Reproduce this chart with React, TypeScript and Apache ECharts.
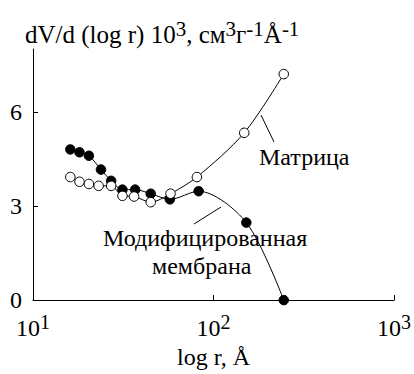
import { useEffect, useRef } from "react";
import * as echarts from "echarts";

const matrixR = [16.1, 18.1, 20.4, 23.1, 27.1, 31.3, 36.3, 44.9, 57.8, 80.9, 148, 245];
const matrixV = [3.92, 3.77, 3.7, 3.64, 3.64, 3.32, 3.3, 3.12, 3.39, 3.92, 5.33, 7.2];
const membraneR = [16.1, 18.1, 20.4, 23.8, 27.1, 31.3, 36.8, 44.9, 57.3, 82.7, 152, 245];
const membraneV = [4.8, 4.71, 4.6, 4.16, 3.8, 3.52, 3.52, 3.39, 3.21, 3.47, 2.47, 0];
const yTicks = [0, 3, 6];
const xTickValues = [10, 100, 1000];

const FONT = "'Liberation Serif', 'Times New Roman', 'DejaVu Serif', serif";
const BASE = 24;
const SUP = 20;

export default function App() {
  const ref = useRef<HTMLDivElement>(null);
  useEffect(() => {
    document.body.style.margin = "0";
    const chart = echarts.init(ref.current!, null, { renderer: "svg" });
    const rich = {
      a: { fontFamily: FONT, fontSize: BASE, fontWeight: "normal" as const, color: "#000", verticalAlign: "bottom" as const },
      s: { fontFamily: FONT, fontSize: SUP, fontWeight: "normal" as const, color: "#000", verticalAlign: "bottom" as const, padding: [0, 0, 8, 0] },
    };
    const titleRich = {
      a: { fontFamily: FONT, fontSize: 25, fontWeight: "normal" as const, color: "#000", verticalAlign: "bottom" as const },
      s: { fontFamily: FONT, fontSize: 21, fontWeight: "normal" as const, color: "#000", verticalAlign: "bottom" as const, padding: [0, 0, 8, 0] },
    };
    const plainRich = {
      a: { fontFamily: FONT, fontSize: BASE, fontWeight: "normal" as const, color: "#000" },
    };
    const label = (text: string, x: number, y: number) => ({
      type: "text",
      x,
      y,
      style: { text: `{a|${text}}`, rich: plainRich, fontFamily: FONT, fontSize: BASE, fill: "#000", verticalAlign: "middle" },
    });
    chart.setOption({
      animation: false,
      textStyle: { fontFamily: FONT },
      title: {
        text: "{a|dV/d (log r) 10}{s|3}{a|, см}{s|3}{a|г}{s|-1}{a|Å}{s|-1}",
        left: 25,
        top: 18,
        padding: 0,
        textStyle: { fontFamily: FONT, fontWeight: "normal", rich: titleRich },
      },
      grid: { left: 33, right: 17, top: 49, bottom: 64 },
      xAxis: {
        type: "log",
        logBase: 10,
        min: 10,
        max: 1000,
        name: "{a|log r, Å}",
        nameLocation: "middle",
        nameGap: 42,
        nameTextStyle: { fontFamily: FONT, fontWeight: "normal", fontSize: BASE, color: "#000", rich: plainRich },
        axisLine: { lineStyle: { color: "#000", width: 1 } },
        axisTick: { inside: true, length: 5, lineStyle: { color: "#000" }, customValues: xTickValues },
        minorTick: { show: false },
        splitLine: { show: false },
        axisLabel: {
          margin: 12,
          customValues: xTickValues,
          fontFamily: FONT,
          fontWeight: "normal",
          formatter: (v: number) => `{a|10}{s|${Math.round(Math.log10(v))}}`,
          rich,
        },
      },
      yAxis: {
        type: "value",
        min: 0,
        max: 8,
        interval: 1,
        axisLine: { show: true, lineStyle: { color: "#000", width: 1 } },
        axisTick: { inside: true, length: 5, lineStyle: { color: "#000" }, customValues: yTicks.slice(1) },
        splitLine: { show: false },
        axisLabel: {
          margin: 11,
          customValues: yTicks,
          fontFamily: FONT,
          fontWeight: "normal",
          fontSize: BASE,
          color: "#000",
          formatter: (v: number) => `{a|${v}}`,
          rich: plainRich,
        },
      },
      graphic: [
        { type: "line", shape: { x1: 261, y1: 115, x2: 274, y2: 142 }, style: { stroke: "#000", lineWidth: 1 } },
        label("Матрица", 259, 157),
        { type: "line", shape: { x1: 194, y1: 224, x2: 221, y2: 207 }, style: { stroke: "#000", lineWidth: 1 } },
        label("Модифицированная", 103, 238),
        label("мембрана", 152, 266),
      ],
      series: [
        {
          name: "Модифицированная мембрана",
          type: "line",
          data: membraneR.map((r, i) => [r, membraneV[i]]),
          smooth: 0.3,
          symbol: "circle",
          symbolSize: 9.5,
          lineStyle: { color: "#000", width: 1 },
          itemStyle: { color: "#000", borderColor: "#000", borderWidth: 1 },
          z: 2,
        },
        {
          name: "Матрица",
          type: "line",
          data: matrixR.map((r, i) => [r, matrixV[i]]),
          smooth: 0.3,
          symbol: "circle",
          symbolSize: 9.5,
          lineStyle: { color: "#000", width: 1 },
          itemStyle: { color: "#fff", borderColor: "#000", borderWidth: 1 },
          z: 3,
        },
      ],
    });
    return () => chart.dispose();
  }, []);
  return <div ref={ref} style={{ position: "absolute", left: 0, top: 0, width: 414, height: 374 }} />;
}
